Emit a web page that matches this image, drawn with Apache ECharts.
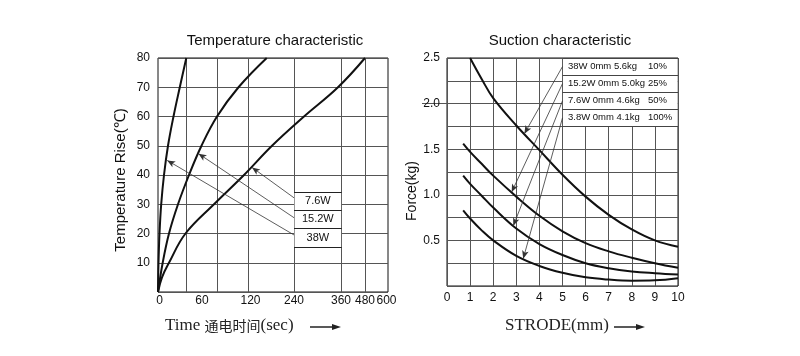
<!DOCTYPE html>
<html><head><meta charset="utf-8">
<script src="https://cdn.jsdelivr.net/npm/echarts@6/dist/echarts.min.js"></script>
<style>html,body{margin:0;padding:0;background:#fff}#c{width:800px;height:356px}</style>
</head><body><div id="c"></div>
<script>
// ---------- Temperature characteristic ----------
// x axis of the original is non-uniform: values are given in "axis position" units (0..230)
const tempXTickLabels = ['0', '60', '120', '240', '360', '480', '600'];
const tempXTickPos = [1.5, 44, 92.5, 136, 183, 207, 228.5];
const tempXGridPos = [28.5, 59.5, 90.3, 136, 183.7, 207];
const temp38W = [[0,0],[0.5,10],[1.5,20],[3.2,30],[6,40],[10,50],[15.5,60],[21.8,70],[28.3,80]];
const temp15W = [[0,0],[4.7,10],[11,20],[20,30],[31,40],[43.5,50],[59,60],[80.5,70],[108.7,80]];
const temp7W = [[0,0],[4,5],[11,10],[27.5,20],[56,30],[86,40],[114,50],[146,60],[180,70],[207,80]];
const tempLegendLabels = ['7.6W', '15.2W', '38W'];
const tempLegendBounds = [34.2, 28.0, 21.7, 15.3];
const tempLeaderStart = [[136,32.2],[136,25.4],[136,19.5]];
const tempLeaderEnd = [[94,42.6],[40.5,47.3],[9.2,45]];

// ---------- Suction characteristic ----------
const force38W = [[1.0,2.5],[1.5,2.27],[2,2.06],[3,1.76],[4,1.49],[5,1.22],[6,0.98],[7,0.78],[8,0.62],[9,0.5],[10,0.43]];
const force15W = [[0.7,1.56],[1.0,1.47],[1.5,1.34],[2,1.21],[3,0.98],[4,0.77],[5,0.6],[6,0.47],[7,0.38],[8,0.31],[9,0.25],[10,0.2]];
const force7W = [[0.7,1.21],[1,1.12],[1.5,0.99],[2,0.86],[3,0.63],[4,0.46],[5,0.34],[6,0.25],[7,0.195],[8,0.16],[9,0.14],[10,0.125]];
const force3W = [[0.7,0.83],[1,0.74],[1.5,0.61],[2,0.5],[3,0.33],[4,0.22],[5,0.145],[6,0.095],[7,0.07],[8,0.058],[9,0.062],[10,0.085]];
const forceLabelValues = [0.5, 1.0, 1.5, 2.0, 2.5];
const suctionRows = ['38W 0mm 5.6kg', '15.2W 0mm 5.0kg', '7.6W 0mm 4.6kg', '3.8W 0mm 4.1kg'];
const suctionDuty = ['10%', '25%', '50%', '100%'];
const suctionBounds = [2.5, 2.3125, 2.125, 1.9375, 1.75];
const suctionLeaderStart = [[5,2.406],[5,2.219],[5,2.031],[5,1.844]];
const suctionLeaderEnd = [[3.35,1.67],[2.8,1.03],[2.87,0.66],[3.3,0.3]];

const FONT = "'Liberation Sans', Arial, sans-serif";
const SERIF = "'Liberation Serif', 'Times New Roman', 'Noto Sans CJK SC', serif";
const GRID_LINE = {color: '#555', width: 1};
const CURVE = {color: '#111', width: 2};
const tick = {color: '#111', fontFamily: FONT, fontSize: 12};

function curve(data, xi) {
  return {type: 'line', xAxisIndex: xi, yAxisIndex: xi, data: data, smooth: 0.4,
    showSymbol: false, symbol: 'none', lineStyle: CURVE, silent: true, z: 3};
}
function leaders(starts, ends) {
  return starts.map((s, i) => [{coord: s}, {coord: ends[i]}]);
}
function rowLines(bounds, x0, x1) {
  return bounds.map(b => [{coord: [x0, b]}, {coord: [x1, b]}]);
}

const chart = echarts.init(document.getElementById('c'), null, {renderer: 'canvas'});
chart.setOption({
  animation: false,
  backgroundColor: '#fff',
  title: [
    {text: 'Temperature characteristic', left: 275, top: 33, textAlign: 'center', padding: 0,
      textStyle: {fontFamily: FONT, fontSize: 15, fontWeight: 'normal', color: '#111'}},
    {text: 'Suction characteristic', left: 560, top: 33, textAlign: 'center', padding: 0,
      textStyle: {fontFamily: FONT, fontSize: 15, fontWeight: 'normal', color: '#111'}}
  ],
  grid: [
    {left: 158, top: 58, width: 230, height: 234, show: true, borderColor: '#111', borderWidth: 1},
    {left: 447, top: 58, width: 231, height: 228, show: true, borderColor: '#111', borderWidth: 1}
  ],
  xAxis: [
    {gridIndex: 0, type: 'value', min: 0, max: 230,
      axisLine: {show: false}, axisTick: {show: false, customValues: tempXGridPos},
      splitLine: {show: true, lineStyle: GRID_LINE},
      axisLabel: Object.assign({customValues: tempXTickPos, margin: 3,
        formatter: v => tempXTickLabels[tempXTickPos.indexOf(v)]}, tick)},
    {gridIndex: 1, type: 'value', min: 0, max: 10, interval: 1,
      axisLine: {show: false}, axisTick: {show: false},
      splitLine: {show: true, lineStyle: GRID_LINE},
      axisLabel: Object.assign({margin: 6}, tick)}
  ],
  yAxis: [
    {gridIndex: 0, type: 'value', min: 0, max: 80, interval: 10,
      axisLine: {show: false}, axisTick: {show: false},
      splitLine: {show: true, lineStyle: GRID_LINE},
      axisLabel: Object.assign({margin: 8, formatter: v => v === 0 ? '' : String(v)}, tick),
      name: 'Temperature Rise(℃)', nameLocation: 'middle', nameGap: 30, nameRotate: 90,
      nameTextStyle: {fontFamily: FONT, fontSize: 15, color: '#111', padding: [0, 10, 0, 0]}},
    {gridIndex: 1, type: 'value', min: 0, max: 2.5, interval: 0.25,
      axisLine: {show: false}, axisTick: {show: false},
      splitLine: {show: true, lineStyle: GRID_LINE},
      axisLabel: Object.assign({margin: 7, customValues: forceLabelValues,
        formatter: v => v.toFixed(1)}, tick),
      name: 'Force(kg)', nameLocation: 'middle', nameGap: 28, nameRotate: 90,
      nameTextStyle: {fontFamily: FONT, fontSize: 14, color: '#111', padding: [0, 38, 0, 0]}}
  ],
  series: [
    curve(temp38W, 0), curve(temp15W, 0), curve(temp7W, 0),
    {type: 'line', xAxisIndex: 0, yAxisIndex: 0, data: [], silent: true, z: 4,
      markArea: {silent: true, itemStyle: {color: '#fff'},
        label: {show: true, position: 'inside', fontFamily: FONT, fontSize: 11, color: '#111'},
        data: tempLegendLabels.map((n, i) => [{name: n, coord: [136.6, tempLegendBounds[i]]},
          {coord: [183.1, tempLegendBounds[i + 1]]}])},
      markLine: {silent: true, symbol: ['none', 'none'], label: {show: false},
        lineStyle: {color: '#222', width: 1, type: 'solid'},
        data: rowLines(tempLegendBounds, 136, 183.7)}},
    {type: 'line', xAxisIndex: 0, yAxisIndex: 0, data: [], silent: true, z: 5,
      markLine: {silent: true, symbol: ['none', 'arrow'], symbolSize: [5, 8], label: {show: false},
        lineStyle: {color: '#333', width: 0.8, type: 'solid'},
        data: leaders(tempLeaderStart, tempLeaderEnd)}},
    curve(force38W, 1), curve(force15W, 1), curve(force7W, 1), curve(force3W, 1),
    {type: 'line', xAxisIndex: 1, yAxisIndex: 1, data: [], silent: true, z: 4,
      markArea: {silent: true, itemStyle: {color: '#fff'},
        label: {show: true, position: 'insideLeft', distance: 5,
          formatter: p => {const k = p.name.split('|'); return '{a|' + k[0] + '}{b|' + k[1] + '}';},
          rich: {a: {width: 80, fontFamily: FONT, fontSize: 9.5, color: '#111'},
                 b: {fontFamily: FONT, fontSize: 9.5, color: '#111'}}},
        data: suctionRows.map((n, i) => [{name: n + '|' + suctionDuty[i], coord: [5.02, suctionBounds[i]]},
          {coord: [9.98, suctionBounds[i + 1]]}])},
      markLine: {silent: true, symbol: ['none', 'none'], label: {show: false},
        lineStyle: {color: '#444', width: 1, type: 'solid'},
        data: rowLines(suctionBounds, 5, 10)}},
    {type: 'line', xAxisIndex: 1, yAxisIndex: 1, data: [], silent: true, z: 5,
      markLine: {silent: true, symbol: ['none', 'arrow'], symbolSize: [5, 8], label: {show: false},
        lineStyle: {color: '#333', width: 0.8, type: 'solid'},
        data: leaders(suctionLeaderStart, suctionLeaderEnd)}}
  ],
  graphic: [
    {type: 'line', shape: {x1: 422, y1: 103.5, x2: 447, y2: 103.5}, style: {stroke: '#555', lineWidth: 1}},
    {type: 'text', left: 165, top: 317, style: {
      text: '{a|Time }{b|通电时间}{a|(sec)}',
      rich: {a: {fontFamily: SERIF, fontSize: 17, fill: '#222'},
             b: {fontFamily: "'Noto Sans CJK SC', sans-serif", fontSize: 14, fill: '#222'}}}},
    {type: 'line', shape: {x1: 310, y1: 327, x2: 334, y2: 327}, style: {stroke: '#222', lineWidth: 1.5}},
    {type: 'polygon', shape: {points: [[332, 324], [341, 327], [332, 330]]}, style: {fill: '#222'}},
    {type: 'text', left: 505, top: 317, style: {
      text: 'STRODE(mm)', font: "17px 'Liberation Serif', serif", fill: '#222'}},
    {type: 'line', shape: {x1: 614, y1: 327, x2: 638, y2: 327}, style: {stroke: '#222', lineWidth: 1.5}},
    {type: 'polygon', shape: {points: [[636, 324], [645, 327], [636, 330]]}, style: {fill: '#222'}}
  ]
});
</script></body></html>
